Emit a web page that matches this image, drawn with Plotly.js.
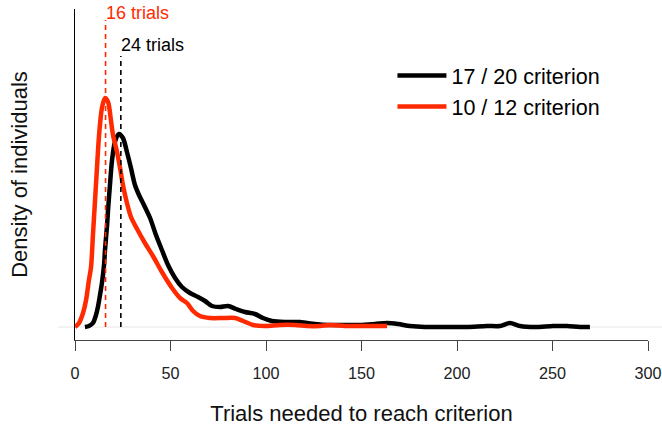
<!DOCTYPE html>
<html>
<head>
<meta charset="utf-8">
<script src="https://cdn.plot.ly/plotly-3.0.1.min.js"></script>
<style>html,body{margin:0;padding:0;background:#fff;}#chart{width:662px;height:426px;}</style>
</head>
<body>
<div id="chart"></div>
<script>
// 10 / 12 criterion (red) density estimate
const redTrials = [0,2.1,4.2,5.8,7.3,8.4,9.4,10.5,11.5,12.6,14.1,15.7,17.3,18.8,19.9,22.0,23.6,25.1,27.2,29.3,32.5,36.6,40.8,45.5,50.8,55.0,58.6,61.8,65.4,70.7,77.5,83.8,88.0,93.2,99.5,107.3,115.2,121.5,128.3,133.5,141.4,149.2,157.1,163.4];
const redDensity = [0,0.0008,0.0028,0.0054,0.0094,0.012,0.0184,0.0254,0.0318,0.0384,0.0438,0.0458,0.045,0.0414,0.0384,0.035,0.0318,0.0284,0.0248,0.022,0.0196,0.0168,0.0142,0.011,0.0078,0.0058,0.0048,0.0032,0.0022,0.0018,0.0018,0.0018,0.0012,0.0004,0.0002,0.0004,0.0004,0.0002,0.0002,0.0004,0.0002,0.0002,0.0002,0.0002];
// 17 / 20 criterion (black) density estimate
const blackTrials = [5.2,7.3,9.4,11.0,12.0,13.1,14.1,15.2,15.7,16.8,17.3,18.3,19.4,20.9,23.0,25.1,27.2,29.3,31.4,33.5,36.1,39.3,42.4,45.5,48.7,52.4,56.0,60.2,64.4,68.1,71.7,75.9,80.1,84.3,89.0,94.2,98.4,103.1,110.0,117.8,125.7,133.5,141.4,149.2,157.1,163.4,169.1,175.4,183.2,193.7,205.2,215.7,222.5,227.7,233.0,240.8,250.3,257.6,264.4,269.6];
const blackDensity = [0,0.0002,0.0008,0.0024,0.004,0.0064,0.0088,0.0124,0.0154,0.0204,0.0234,0.0284,0.0334,0.037,0.0386,0.0378,0.035,0.0318,0.0284,0.0264,0.0244,0.0218,0.0184,0.0154,0.0124,0.0098,0.008,0.0068,0.006,0.0052,0.0042,0.004,0.0042,0.0036,0.003,0.0026,0.0018,0.0012,0.001,0.001,0.0006,0.0004,0.0004,0.0004,0.0006,0.0008,0.0006,0.0002,0,0,0,0.0002,0.0002,0.0008,0.0002,0,0.0002,0.0002,0,0];
// medians
const seriesNames = ['17 / 20 criterion', '10 / 12 criterion'];
const medianTrials = [24, 16];
const medianLabels = ['24 trials', '16 trials'];
const xTicks = [0, 50, 100, 150, 200, 250, 300];

const RED = '#ff2a00';
const FONT = 'Liberation Sans, Arial, Helvetica, sans-serif';

const traces = [
  {x: blackTrials, y: blackDensity, name: seriesNames[0], type: 'scatter', mode: 'lines',
   line: {color: '#000000', width: 4.5, shape: 'spline', smoothing: 0.8}},
  {x: redTrials, y: redDensity, name: seriesNames[1], type: 'scatter', mode: 'lines',
   line: {color: RED, width: 4.5, shape: 'spline', smoothing: 0.8}}
];

const medTop = [0.0542, 0.0614];
const labelY = [0.0564, 0.0628];
const medColors = ['#000000', RED];

const shapes = [
  {type: 'line', xref: 'paper', yref: 'y', x0: -0.03, x1: 1.03, y0: 0, y1: 0,
   line: {color: '#e6e6e6', width: 1}, layer: 'below'}
];
const annotations = [];
medianTrials.forEach((m, i) => {
  shapes.push({type: 'line', xref: 'x', yref: 'y', x0: m, x1: m, y0: 0, y1: medTop[i],
    line: {color: medColors[i], width: 1.6, dash: '5px,4px'}});
  annotations.push({x: m, y: labelY[i], xref: 'x', yref: 'y', text: medianLabels[i],
    showarrow: false, xanchor: 'left', yanchor: 'middle', xshift: -2,
    font: {family: FONT, size: 18, color: medColors[i]}});
});

const layout = {
  width: 662, height: 426,
  margin: {l: 75, r: 14, t: 9, b: 86},
  paper_bgcolor: '#ffffff', plot_bgcolor: '#ffffff',
  font: {family: FONT, color: '#000000'},
  showlegend: true,
  legend: {x: 0.554, y: 0.861, xanchor: 'left', yanchor: 'top', bgcolor: 'rgba(0,0,0,0)',
    itemwidth: 49,
    font: {family: FONT, size: 21.5, color: '#000000'}, tracegroupgap: 0},
  xaxis: {range: [0, 300], tickvals: xTicks, ticktext: xTicks.map(String),
    showgrid: false, zeroline: false, showline: true, linecolor: '#444444', linewidth: 1,
    ticks: 'outside', ticklen: 10, tickcolor: '#444444', tickwidth: 1,
    ticklabelstandoff: 9,
    tickfont: {family: FONT, size: 16.2, color: '#222222'},
    title: {text: 'Trials needed to reach criterion', font: {family: FONT, size: 22, color: '#111111'}, standoff: 24},
    automargin: false, fixedrange: true},
  yaxis: {range: [-0.0026, 0.0636], showgrid: false, zeroline: false, showline: true,
    linecolor: '#000000', linewidth: 1, ticks: '', showticklabels: false,
    title: {text: 'Density of individuals', font: {family: FONT, size: 22, color: '#111111'}, standoff: 40},
    automargin: false, fixedrange: true},
  shapes: shapes,
  annotations: annotations
};

Plotly.newPlot('chart', traces, layout, {displayModeBar: false, staticPlot: true});
</script>
</body>
</html>
